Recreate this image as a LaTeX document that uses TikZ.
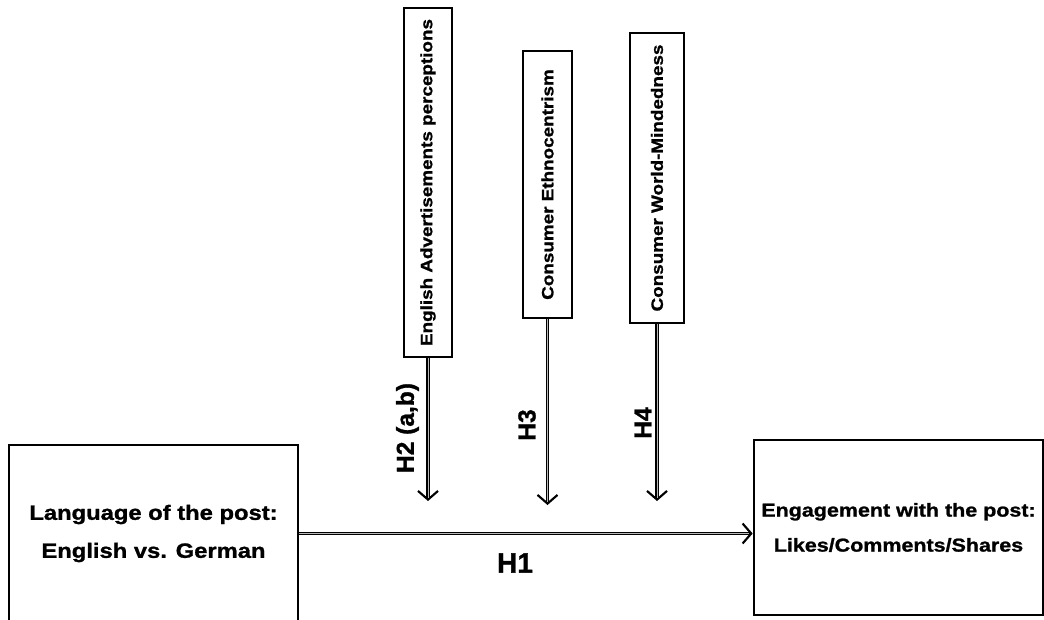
\documentclass[tikz,border=0pt]{standalone}
\usepackage{fontspec}
\setmainfont{Liberation Sans}[BoldFeatures={FakeBold=1.2}]
\newfontfamily\widefont{Liberation Sans}[FakeStretch=1.15, BoldFeatures={FakeBold=1.2}]
\usetikzlibrary{arrows.meta}

\begin{document}
\begin{tikzpicture}[x=0.75pt, y=-0.75pt,
  box/.style={draw, line width=2pt, inner sep=0pt, align=center, font=\widefont\bfseries},
  link/.style={draw, line width=2.6pt,
    -{Straight Barb[length=6.5pt, width=15pt, line width=1.6pt]},
    postaction={draw, arrows=-, gray!55, line width=0.7pt, shorten >=2.5pt}},
  hlabel/.style={inner sep=0pt, font=\bfseries\fontsize{18.4}{20}\selectfont}]
  \useasboundingbox (0,0) rectangle (1044,619);

  % main boxes
  \node (lang) [box, minimum width=289*0.75pt, minimum height=177*0.75pt,
        font=\widefont\bfseries\fontsize{15.5}{28.5}\selectfont]
        at (153.5,533.5) {Language of the post:\\ English vs. German};
  \node (engage) [box, minimum width=289*0.75pt, minimum height=175*0.75pt,
        font=\widefont\bfseries\fontsize{14}{26.25}\selectfont]
        at (898.5,527.5) {Engagement with the post:\\ Likes/Comments/Shares};

  % moderators
  \node (advert) [box, minimum width=48*0.75pt, minimum height=349*0.75pt,
        font=\widefont\bfseries\fontsize{12.3}{14}\selectfont]
        at (428,182.5) {\rotatebox{90}{English Advertisements perceptions}};
  \node (ethno) [box, minimum width=49*0.75pt, minimum height=267*0.75pt,
        font=\widefont\bfseries\fontsize{12.3}{14}\selectfont]
        at (547.5,184.5) {\rotatebox{90}{Consumer Ethnocentrism}};
  \node (world) [box, minimum width=54*0.75pt, minimum height=290*0.75pt,
        font=\widefont\bfseries\fontsize{12.3}{14}\selectfont]
        at (657,178) {\rotatebox{90}{Consumer World-Mindedness}};

  \coordinate (advertEnd) at (428,501);
  \coordinate (ethnoEnd) at (547.5,505);
  \coordinate (worldEnd) at (657,501);

  % hypotheses
  \node (h1) [hlabel, font=\bfseries\fontsize{21}{24}\selectfont] at (515,563) {H1};
  \node (h2) [hlabel, rotate=90] at (407.5,428) {H2 (a,b)};
  \node (h3) [hlabel, rotate=90] at (527,425) {H3};
  \node (h4) [hlabel, rotate=90] at (643,423) {H4};

  \draw[link] (lang.east) -- (lang.east -| engage.west);
  \draw[link] (advert.south) -- (advertEnd);
  \draw[link] (ethno.south) -- (ethnoEnd);
  \draw[link] (world.south) -- (worldEnd);
\end{tikzpicture}
\end{document}
